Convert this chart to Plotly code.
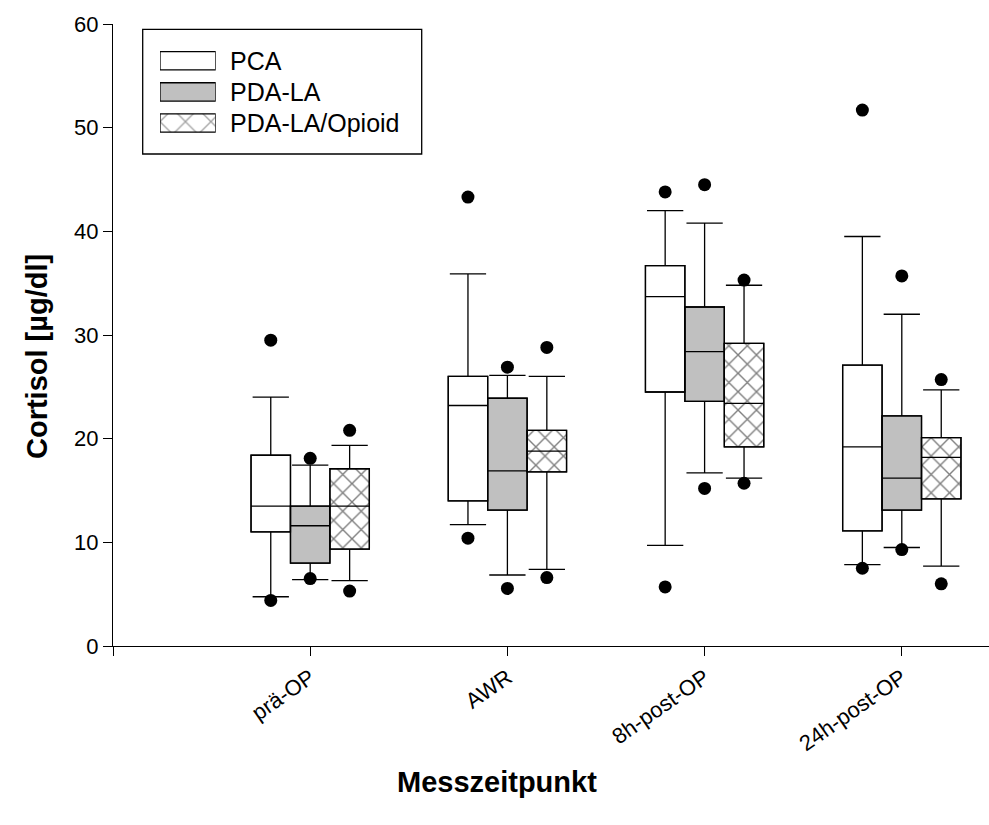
import plotly.graph_objects as go

# ---------------- data ----------------
categories = ["prä-OP", "AWR", "8h-post-OP", "24h-post-OP"]
groups = ["PCA", "PDA-LA", "PDA-LA/Opioid"]

pca_p10 = [4.75, 11.7, 9.7, 7.85]
pca_q1 = [11.0, 14.0, 24.5, 11.1]
pca_med = [13.5, 23.2, 33.7, 19.2]
pca_q3 = [18.4, 26.0, 36.7, 27.1]
pca_p90 = [24.0, 35.9, 42.0, 39.5]
pca_low = [4.4, 10.4, 5.7, 7.5]
pca_high = [29.5, 43.3, 43.8, 51.7]

la_p10 = [6.4, 6.85, 16.7, 9.5]
la_q1 = [8.0, 13.1, 23.6, 13.1]
la_med = [11.6, 16.9, 28.4, 16.2]
la_q3 = [13.5, 23.9, 32.7, 22.2]
la_p90 = [17.45, 26.1, 40.8, 32.0]
la_low = [6.5, 5.55, 15.2, 9.3]
la_high = [18.1, 26.9, 44.5, 35.7]

op_p10 = [6.3, 7.4, 16.2, 7.7]
op_q1 = [9.35, 16.8, 19.2, 14.2]
op_med = [13.5, 18.8, 23.4, 18.2]
op_q3 = [17.1, 20.8, 29.2, 20.1]
op_p90 = [19.35, 26.0, 34.8, 24.7]
op_low = [5.3, 6.6, 15.7, 6.0]
op_high = [20.8, 28.8, 35.3, 25.7]

y_ticks = [0, 10, 20, 30, 40, 50, 60]
x_title = "Messzeitpunkt"
y_title = "Cortisol [µg/dl]"

# ---------------- styling ----------------
W, H = 989, 825
ML, MR, MT, MB = 113, 0, 24, 179
PW, PH = W - ML - MR, H - MT - MB
UNIT = 197.2          # pixels per category step
BOXW = 0.2            # box width in category units
FONT = "Liberation Sans, Arial, sans-serif"

series = [
    dict(name=groups[0], off=-BOXW, fill="white", pattern="",
         p10=pca_p10, q1=pca_q1, med=pca_med, q3=pca_q3, p90=pca_p90, low=pca_low, high=pca_high),
    dict(name=groups[1], off=0.0, fill="#c0c0c0", pattern="",
         p10=la_p10, q1=la_q1, med=la_med, q3=la_q3, p90=la_p90, low=la_low, high=la_high),
    dict(name=groups[2], off=BOXW, fill="white", pattern="x",
         p10=op_p10, q1=op_q1, med=op_med, q3=op_q3, p90=op_p90, low=op_low, high=op_high),
]

fig = go.Figure()

for s in series:
    xs = [i + 1 + s["off"] for i in range(len(categories))]
    # box body (with fill / hatch)
    fig.add_trace(go.Bar(
        x=xs, base=s["q1"], y=[b - a for a, b in zip(s["q1"], s["q3"])],
        width=BOXW, showlegend=False, hoverinfo="skip",
        marker=dict(color=s["fill"], line=dict(color="black", width=1.3),
                    pattern=dict(shape=s["pattern"], fgcolor="black", bgcolor=s["fill"],
                                 size=13, solidity=0.2)),
    ))
    # median / whiskers
    fig.add_trace(go.Box(
        x=xs, q1=s["q1"], median=s["med"], q3=s["q3"],
        lowerfence=s["p10"], upperfence=s["p90"],
        width=BOXW, whiskerwidth=0.92, boxpoints=False,
        fillcolor="rgba(0,0,0,0)", line=dict(color="black", width=1.3),
        showlegend=False, hoverinfo="skip",
    ))
    # outliers (5th / 95th percentile points)
    fig.add_trace(go.Scatter(
        x=xs + xs, y=s["low"] + s["high"], mode="markers",
        marker=dict(color="black", size=13, symbol="circle"),
        showlegend=False, hoverinfo="skip",
    ))

# ---------------- custom legend (wide swatches) ----------------
def px_x(p):
    return (p - ML) / PW

def px_y(p):
    return (H - MB - p) / PH

row_h = 31.1
rows_top = 45.25
fig.add_trace(go.Bar(
    x=[1, 1, 1], y=[0, 1, 2], base=[0, 0, 0], orientation="h", width=0.59,
    xaxis="x2", yaxis="y2", showlegend=False, hoverinfo="skip",
    marker=dict(color=[s["fill"] for s in series], line=dict(color="black", width=1.3),
                pattern=dict(shape=[s["pattern"] for s in series], fgcolor="black",
                             bgcolor=[s["fill"] for s in series], size=18, solidity=0.14)),
))

annotations = []
for i, s in enumerate(series):
    annotations.append(dict(
        x=px_x(228), xref="paper", y=i, yref="y2", text=s["name"], showarrow=False,
        xanchor="left", yanchor="middle", font=dict(family=FONT, size=25, color="black"),
    ))

# axis titles (positioned as in the reference, centred on the figure)
annotations.append(dict(
    x=px_x(497), xref="paper", y=px_y(782), yref="paper", text="<b>%s</b>" % x_title,
    showarrow=False, xanchor="center", yanchor="middle",
    font=dict(family=FONT, size=29, color="black"),
))
annotations.append(dict(
    x=px_x(37), xref="paper", y=px_y(357), yref="paper", text="<b>%s</b>" % y_title,
    showarrow=False, xanchor="center", yanchor="middle", textangle=-90,
    font=dict(family=FONT, size=29, color="black"),
))

shapes = [dict(type="rect", xref="paper", yref="paper",
               x0=px_x(142.7), x1=px_x(421.7), y0=px_y(154), y1=px_y(29.3),
               line=dict(color="black", width=1.3), fillcolor="rgba(0,0,0,0)")]

fig.update_layout(
    width=W, height=H,
    margin=dict(l=ML, r=MR, t=MT, b=MB, pad=0),
    paper_bgcolor="white", plot_bgcolor="white",
    barmode="overlay", boxmode="overlay",
    showlegend=False,
    font=dict(family=FONT, color="black"),
    xaxis=dict(
        range=[0, PW / UNIT], tickmode="array",
        tickvals=[0] + [i + 1 for i in range(len(categories))],
        ticktext=[""] + categories, tickangle=-35,
        ticks="outside", ticklen=9, tickcolor="black", tickwidth=1.2,
        showline=True, linecolor="black", linewidth=1.3,
        showgrid=False, zeroline=False,
        tickfont=dict(family=FONT, size=22, color="black"),
    ),
    yaxis=dict(
        range=[0, 60], tickmode="array", tickvals=y_ticks,
        ticks="outside", ticklen=9, tickcolor="black", tickwidth=1.2,
        showline=True, linecolor="black", linewidth=1.3,
        showgrid=False, zeroline=False,
        tickfont=dict(family=FONT, size=22, color="black"),
    ),
    xaxis2=dict(domain=[px_x(160), px_x(215.7)], range=[0, 1], anchor="y2",
                visible=False, fixedrange=True),
    yaxis2=dict(domain=[px_y(rows_top + 3 * row_h), px_y(rows_top)], range=[2.5, -0.5],
                anchor="x2", visible=False, fixedrange=True),
    annotations=annotations,
    shapes=shapes,
)

fig.write_html("out.html")
